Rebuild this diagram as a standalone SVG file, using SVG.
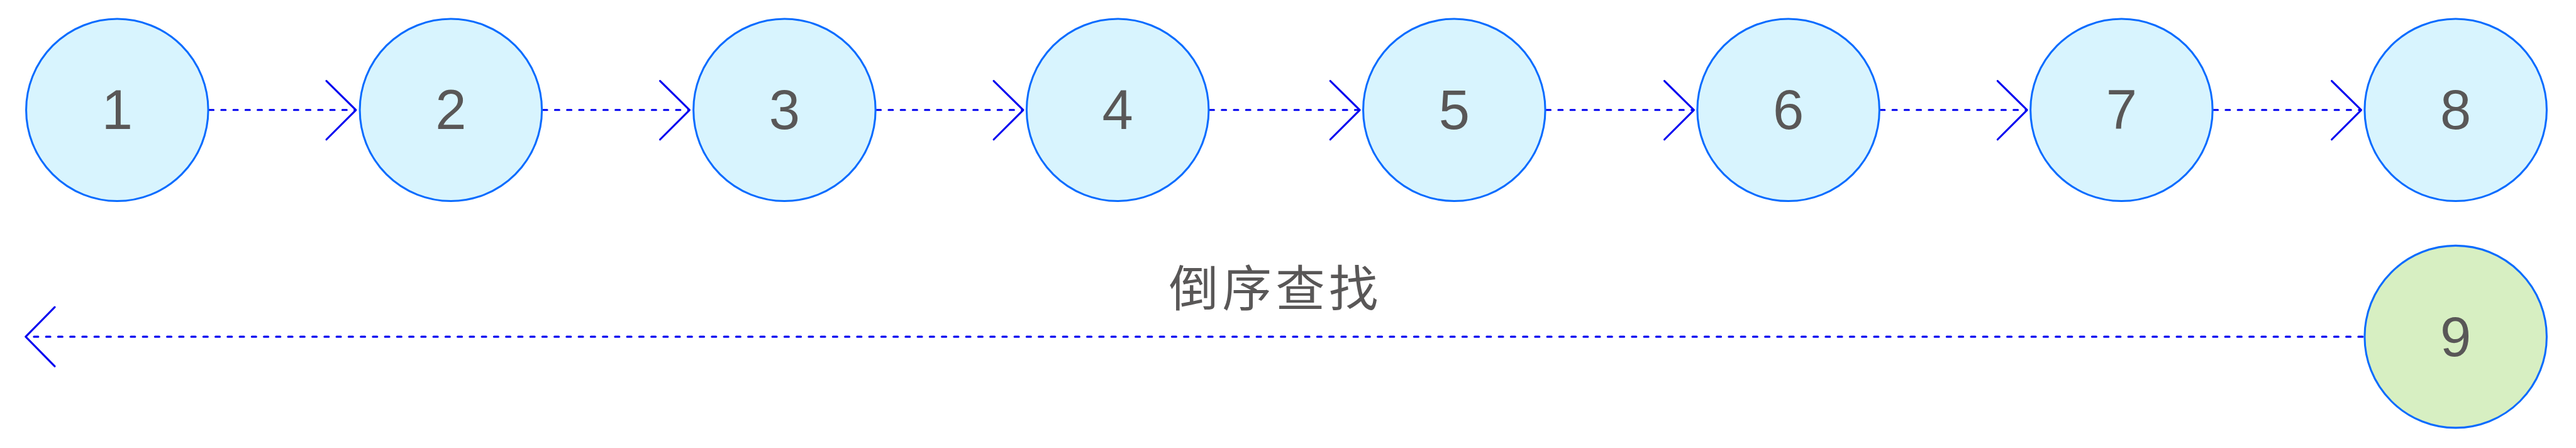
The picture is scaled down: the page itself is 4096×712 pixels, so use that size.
<svg xmlns="http://www.w3.org/2000/svg" width="4096" height="712" viewBox="0 0 4096 712">
<style>
.node{fill:#d8f4fe;stroke:#0a6cff;stroke-width:4}
.node9{fill:#d7efc2;stroke:#0a6cff;stroke-width:4}
.lbl{font-family:"Liberation Sans","DejaVu Sans",sans-serif;font-size:115px;fill:#595757;text-anchor:middle}
.dash{stroke:#0000f0;stroke-width:4;stroke-dasharray:9 16;stroke-linecap:round;fill:none}
.head{stroke:#0000f0;stroke-width:4;fill:none;stroke-linecap:round;stroke-linejoin:round}
.cjk{font-family:"Noto Sans CJK SC","Noto Sans",sans-serif;font-size:102px;fill:#595757;text-anchor:middle;letter-spacing:8px}
</style>
<rect width="4096" height="712" fill="#ffffff"/>
<g transform="scale(0.77)">
<g id="connectors">
<line class="dash" x1="432" y1="227" x2="734" y2="227"/>
<polyline class="head" points="674,167 735,227 674,288"/>
<line class="dash" x1="1121" y1="227" x2="1423" y2="227"/>
<polyline class="head" points="1363,167 1424,227 1363,288"/>
<line class="dash" x1="1810" y1="227" x2="2112" y2="227"/>
<polyline class="head" points="2052,167 2113,227 2052,288"/>
<line class="dash" x1="2498" y1="227" x2="2807" y2="227"/>
<polyline class="head" points="2747,167 2808,227 2747,288"/>
<line class="dash" x1="3193" y1="227" x2="3497" y2="227"/>
<polyline class="head" points="3437,167 3498,227 3437,288"/>
<line class="dash" x1="3883" y1="227" x2="4185" y2="227"/>
<polyline class="head" points="4125,167 4186,227 4125,288"/>
<line class="dash" x1="4571" y1="227" x2="4875" y2="227"/>
<polyline class="head" points="4815,167 4876,227 4815,288"/>
<line class="dash" x1="4879" y1="695" x2="56" y2="695"/>
<polyline class="head" points="113,634 53,695 113,756"/>
</g>
<g id="node1"><circle class="node" cx="242" cy="227" r="188"/><text class="lbl" x="242" y="266">1</text></g>
<g id="node2"><circle class="node" cx="931" cy="227" r="188"/><text class="lbl" x="931" y="266">2</text></g>
<g id="node3"><circle class="node" cx="1620" cy="227" r="188"/><text class="lbl" x="1620" y="266">3</text></g>
<g id="node4"><circle class="node" cx="2308" cy="227" r="188"/><text class="lbl" x="2308" y="266">4</text></g>
<g id="node5"><circle class="node" cx="3003" cy="227" r="188"/><text class="lbl" x="3003" y="266">5</text></g>
<g id="node6"><circle class="node" cx="3693" cy="227" r="188"/><text class="lbl" x="3693" y="266">6</text></g>
<g id="node7"><circle class="node" cx="4381" cy="227" r="188"/><text class="lbl" x="4381" y="266">7</text></g>
<g id="node8"><circle class="node" cx="5071" cy="227" r="188"/><text class="lbl" x="5071" y="266">8</text></g>
<g id="node9"><circle class="node9" cx="5071" cy="695" r="188"/><text class="lbl" x="5071" y="735">9</text></g>
<g id="label"><text class="cjk" x="2634" y="633">倒序查找</text></g>
</g>
</svg>
